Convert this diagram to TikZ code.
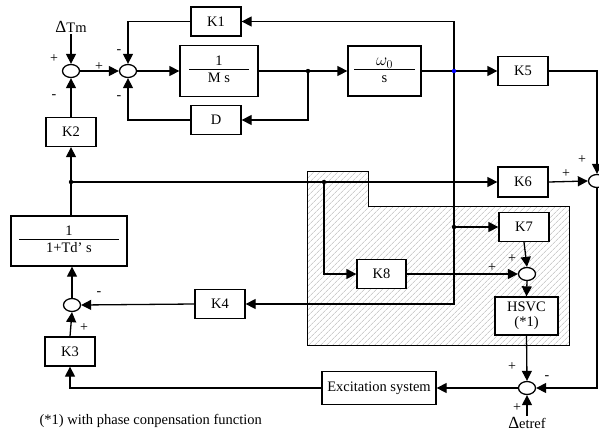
\documentclass[tikz,border=0pt]{standalone}
\usepackage{fontspec}
\setmainfont{Liberation Serif}
\usetikzlibrary{shapes.geometric, arrows.meta, patterns.meta}
\newcommand{\blkfrac}[3]{\vbox{\offinterlineskip\halign{\hfil##\hfil\cr\strut #1\cr\noalign{\kern-2pt}\rule{#3}{0.9pt}\cr\noalign{\kern2pt}\strut #2\cr}}}

\begin{document}
\begin{tikzpicture}[x=1pt, y=-1pt, line width=1.3pt,
  blk/.style={draw, fill=white, rectangle, inner sep=0pt, minimum width=50pt, minimum height=29pt, font=\fontsize{14.5}{16}\selectfont},
  sumj/.style={draw, fill=white, ellipse, minimum width=17pt, minimum height=13pt, inner sep=0pt},
  arr/.style={-{Triangle[length=10pt,width=10pt]}},
  sgn/.style={font=\fontsize{14}{16}\selectfont, inner sep=0pt},
  lbl/.style={font=\fontsize{14.5}{16}\selectfont, inner sep=1pt}]
  \useasboundingbox (0,0) rectangle (599,436);

  % SVC compensation area
  \fill[pattern={Lines[angle=45, distance=4pt, line width=0.5pt]}, pattern color=gray!60]
    (307,171) -- (368,171) -- (368,206) -- (569,206) -- (569,345) -- (307,345) -- cycle;
  \draw[line width=1pt] (307,171) -- (368,171) -- (368,206) -- (569,206) -- (569,345) -- (307,345) -- cycle;

  % summing points
  \node[sumj] (sA) at (71,71) {};
  \node[sumj] (sB) at (128,71) {};
  \node[sumj] (sC) at (597,181) {};
  \node[sumj] (sD) at (527,274) {};
  \node[sumj] (sE) at (527,388) {};
  \node[sumj] (sF) at (72,305) {};

  % blocks
  \node[blk] (kone) at (216,21.5) {K1};
  \node[blk] (dgain) at (216,120) {D};
  \node[blk, minimum width=78pt, minimum height=51pt] (ms) at (219,71) {\blkfrac{1}{M s}{60pt}};
  \node[blk, minimum width=73pt, minimum height=50pt] (wz) at (384.5,71) {\blkfrac{\fontsize{18}{16}\selectfont$\omega_0$}{s}{61pt}};
  \node[blk] (ktwo) at (71,132) {K2};
  \node[blk, minimum width=116pt, minimum height=50pt] (td) at (69,241) {\blkfrac{1}{1+Td’ s}{99pt}};
  \node[blk] (kthree) at (70,351.5) {K3};
  \node[blk] (kfour) at (220,304) {K4};
  \node[blk] (kfive) at (523,71) {K5};
  \node[blk, minimum height=30pt] (ksix) at (523,182) {K6};
  \node[blk] (kseven) at (524,227) {K7};
  \node[blk, minimum width=49pt] (keight) at (381.5,274) {K8};
  \node[blk, minimum width=63pt, minimum height=38pt, align=center, font=\fontsize{14.5}{15}\selectfont] (hsvc) at (526.5,316) {HSVC\\(*1)};
  \node[blk, minimum width=114pt, minimum height=33pt] (exc) at (379,388) {Excitation system};

  % inputs and note
  \node[lbl] (dtm) at (71,27) {{\fontsize{17}{16}\selectfont Δ}Tm};
  \node[lbl] (etref) at (527,423) {{\fontsize{17}{16}\selectfont Δ}etref};
  \node[lbl, anchor=west] (note) at (38,421) {(*1) with phase conpensation function};

  % branch points
  \coordinate (jA) at (308,71);
  \coordinate (jB) at (454,71);
  \coordinate (jC) at (454,227);
  \coordinate (jD) at (71,182);
  \coordinate (jE) at (324,182);

  % mechanical loop
  \draw[arr] (dtm.south) -- (sA.north);
  \draw[arr] (ktwo.north) -- (sA.south);
  \draw[arr] (sA.east) -- (sB.west);
  \draw[arr] (kone.west) -| (sB.north);
  \draw[arr] (dgain.west) -| (sB.south);
  \draw[arr] (sB.east) -- (ms.west);
  \draw[arr] (ms.east) -- (wz.west);
  \draw[arr] (jA) |- (dgain.east);
  \draw[arr] (wz.east) -- (kfive.west);
  \draw[arr] (jB) |- (kone.east);
  \draw[arr] (jB) |- (kfour.east);
  \draw[arr] (jC) -- (kseven.west);

  % field and voltage loop
  \draw[arr] (ktwo.south |- td.north) -- (ktwo.south);
  \draw[arr] (jD) -- (ksix.west);
  \draw[arr] (jE) |- (keight.west);
  \draw[arr] (keight.east) -- (sD.west);
  \draw[arr] (kseven.south) -- (sD.north);
  \draw[arr] (sD.south) -- (hsvc.north);
  \draw[arr] (hsvc.south) -- (sE.north);
  \draw[arr] (kfive.east) -| (sC.north);
  \draw[arr] (ksix.east) -- (sC.west);
  \draw[arr] (sC.south) |- (sE.east);
  \draw[arr] (etref.north) -- (sE.south);
  \draw[arr] (sE.west) -- (exc.east);
  \draw[arr] (exc.west) -| (kthree.south);
  \draw[arr] (kthree.north) -- (sF.south);
  \draw[arr] (kfour.west) -- (sF.east);
  \draw[arr] (sF.north) -- (sF.north |- td.south);

  \fill (jA) circle[radius=2.2pt];
  \fill[blue] (jB) circle[radius=2.2pt];
  \fill (jC) circle[radius=2.2pt];
  \fill (jD) circle[radius=2.2pt];
  \fill (jE) circle[radius=2.2pt];

  % signs
  \node[sgn] (pA) at (54,59) {+};
  \node[sgn] (mA) at (54,97) {-};
  \node[sgn] (pB) at (99,67) {+};
  \node[sgn] (mB) at (119,52) {-};
  \node[sgn] (mC) at (119,98) {-};
  \node[sgn] (pC) at (582,160) {+};
  \node[sgn] (pD) at (566,174) {+};
  \node[sgn] (pE) at (512,259) {+};
  \node[sgn] (pF) at (492,268) {+};
  \node[sgn] (pG) at (512,367) {+};
  \node[sgn] (mD) at (547,378) {-};
  \node[sgn] (pH) at (517,408) {+};
  \node[sgn] (mE) at (99,294) {-};
  \node[sgn] (pI) at (84,328) {+};
\end{tikzpicture}
\end{document}
